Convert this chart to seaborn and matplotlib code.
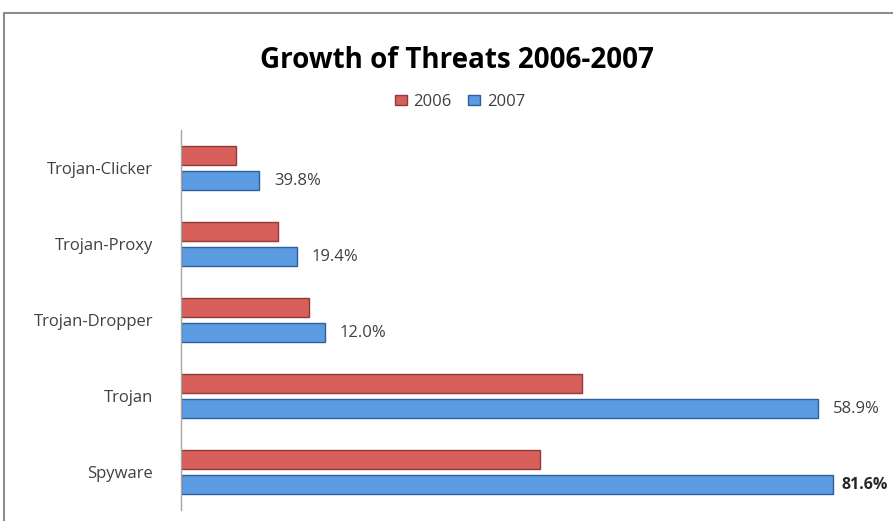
import matplotlib
matplotlib.use("Agg")
import matplotlib.pyplot as plt
from matplotlib.lines import Line2D
import seaborn as sns
import pandas as pd

# values (bar lengths, no axis scale shown)
categories = ["Trojan-Clicker", "Trojan-Proxy", "Trojan-Dropper", "Trojan", "Spyware"]
years = ["2006", "2007"]
vals_2006 = [55, 97, 128, 401, 359]
vals_2007 = [78, 116, 144, 637, 652]
growth_labels = ["39.8%", "19.4%", "12.0%", "58.9%", "81.6%"]

df = pd.DataFrame({
    "threat": categories * 2,
    "year": ["2006"] * 5 + ["2007"] * 5,
    "value": vals_2006 + vals_2007,
})

sns.set_theme(style="white")
plt.rcParams["font.family"] = ["Open Sans", "DejaVu Sans"]

fig = plt.figure(figsize=(8.93, 5.21), dpi=100)
ax = fig.add_axes([181 / 893, 11 / 521, 712 / 893, 380 / 521])

palette = {"2006": "#D65F5C", "2007": "#5A9BE2"}
sns.barplot(data=df, x="value", y="threat", hue="year", order=categories,
            hue_order=years, palette=palette, orient="h", width=0.66, gap=0.24,
            saturation=1, ax=ax, legend=False)

edge = {"2006": "#8E3B39", "2007": "#2E5E9C"}
for cont, yr in zip(ax.containers, years):
    for bar in cont:
        bar.set_edgecolor(edge[yr])
        bar.set_linewidth(1.0)

# percentage labels on 2007 bars (the last one is bold and sits at the edge)
for bar, lab in zip(ax.containers[1], growth_labels):
    bold = lab == "81.6%"
    ax.text(bar.get_width() + (8 if bold else 15), bar.get_y() + bar.get_height() / 2, lab,
            va="center", ha="left", fontsize=11.5 if bold else 12,
            color="#262626" if bold else "#404040",
            fontweight="bold" if bold else "normal", clip_on=False)

ax.set_xlim(0, 712)
ax.set_ylim(len(categories) - 0.5, -0.5)
ax.set_xlabel("")
ax.set_ylabel("")
ax.set_xticks([])
ax.tick_params(axis="y", length=0, pad=20, labelsize=12, labelcolor="#404040")
for s in ["top", "right", "bottom"]:
    ax.spines[s].set_visible(False)
ax.spines["left"].set_color("#A6A6A6")
ax.spines["left"].set_linewidth(1.0)

fig.text(457 / 893, 1 - 68 / 521, "Growth of Threats 2006-2007", ha="center", va="baseline",
         fontsize=20, fontweight="bold", color="#000000")

handles = [plt.Rectangle((0, 0), 1, 1, facecolor=palette[y], edgecolor=edge[y]) for y in years]
fig.legend(handles, years, loc="center", bbox_to_anchor=(460 / 893, 1 - 102 / 521), ncol=2,
           frameon=False, fontsize=12, handlelength=0.7, handleheight=0.6,
           handletextpad=0.4, columnspacing=1.0, labelcolor="#404040")

# outer chart frame (cropped on right and bottom)
fig.add_artist(Line2D([4 / 893, 4 / 893], [0, 1 - 13 / 521], transform=fig.transFigure,
                      color="#8C8C8C", linewidth=1.5))
fig.add_artist(Line2D([4 / 893, 1], [1 - 13 / 521, 1 - 13 / 521], transform=fig.transFigure,
                      color="#8C8C8C", linewidth=1.5))

fig.savefig("out.png", dpi=100)
